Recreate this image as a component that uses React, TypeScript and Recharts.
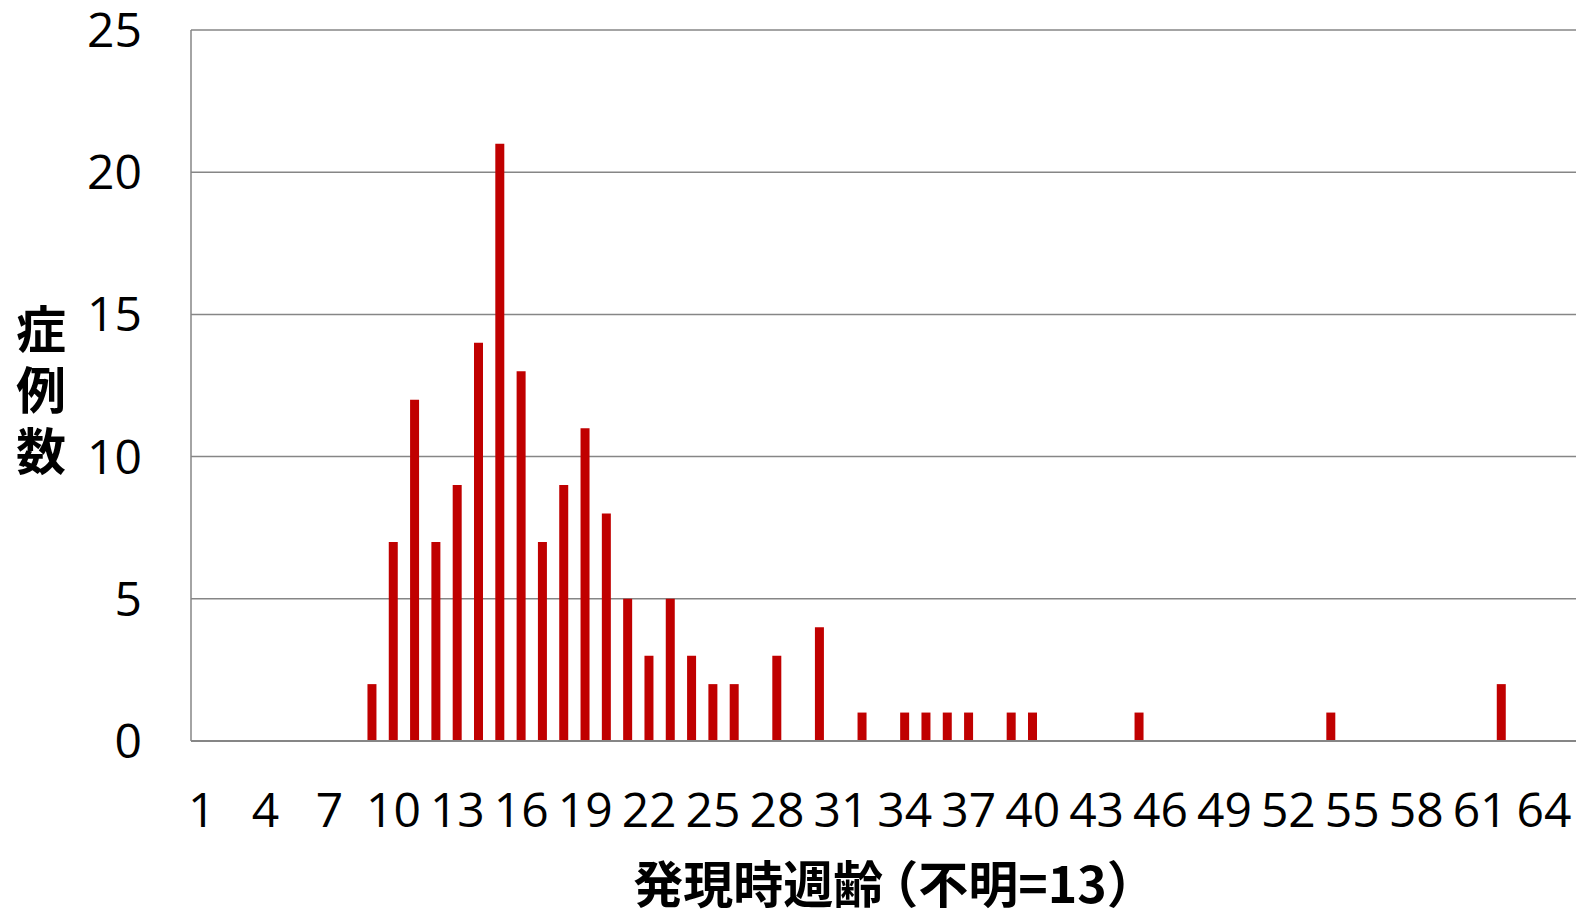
import { BarChart, Bar, XAxis, YAxis, CartesianGrid, Label } from "recharts";

// weeks of age at onset (category axis)
const weeks = [
  1, 2, 3, 4, 5, 6, 7, 8, 9, 10, 11, 12, 13, 14, 15, 16, 17, 18, 19, 20, 21,
  22, 23, 24, 25, 26, 27, 28, 29, 30, 31, 32, 33, 34, 35, 36, 37, 38, 39, 40,
  41, 42, 43, 44, 45, 46, 47, 48, 49, 50, 51, 52, 53, 54, 55, 56, 57, 58, 59,
  60, 61, 62, 63, 64, 65,
];

// number of cases per week
const cases = [
  0, 0, 0, 0, 0, 0, 0, 0, 2, 7, 12, 7, 9, 14, 21, 13, 7, 9, 11, 8, 5, 3, 5, 3,
  2, 2, 0, 3, 0, 4, 0, 1, 0, 1, 1, 1, 1, 0, 1, 1, 0, 0, 0, 0, 1, 0, 0, 0, 0, 0,
  0, 0, 0, 1, 0, 0, 0, 0, 0, 0, 0, 2, 0, 0, 0,
];

const yTicks = [0, 5, 10, 15, 20, 25];
const yTitle = ["症", "例", "数"];
const xTitleHead = "発現時週齢";
const xTitleTail = "（不明=13）";

const data = weeks.map((w, i) => ({ week: w, count: cases[i] }));

const numFont = "'Open Sans', 'Noto Sans', sans-serif";
const cjkFont = "'Noto Sans CJK JP', sans-serif";
const gray = "#868686";

export default function App() {
  return (
    <div style={{ position: "absolute", left: 0, top: 0, background: "#fff" }}>
      <BarChart
        width={1581}
        height={912}
        data={data}
        margin={{ top: 30, right: 5, left: 0, bottom: 0 }}
        barCategoryGap={0}
      >
        <CartesianGrid vertical={false} stroke={gray} strokeWidth={1.5} />
        <XAxis
          dataKey="week"
          height={171}
          interval={2}
          tickLine={false}
          tickSize={0}
          tickMargin={52}
          axisLine={{ stroke: gray, strokeWidth: 2 }}
          tick={{ fill: "#000", fontSize: 48, fontFamily: numFont }}
        >
          <Label
            content={() => (
              <text
                x={895}
                y={903}
                textAnchor="middle"
                fontFamily={cjkFont}
                fontWeight="bold"
                fontSize={50}
                fill="#000"
              >
                <tspan>{xTitleHead}</tspan>
                <tspan dx={-15}>{xTitleTail}</tspan>
              </text>
            )}
          />
        </XAxis>
        <YAxis
          width={191}
          domain={[0, 25]}
          ticks={yTicks}
          tickLine={false}
          tickSize={0}
          tickMargin={49}
          axisLine={{ stroke: gray, strokeWidth: 1.5 }}
          tick={{ fill: "#000", fontSize: 48, fontFamily: numFont }}
        >
          <Label
            content={() => (
              <text
                textAnchor="middle"
                fontFamily={cjkFont}
                fontWeight="bold"
                fontSize={50}
                fill="#000"
              >
                {yTitle.map((c, i) => (
                  <tspan key={c} x={41} y={348 + i * 61}>
                    {c}
                  </tspan>
                ))}
              </text>
            )}
          />
        </YAxis>
        <Bar
          dataKey="count"
          fill="#c00000"
          barSize={9}
          isAnimationActive={false}
        />
      </BarChart>
    </div>
  );
}
